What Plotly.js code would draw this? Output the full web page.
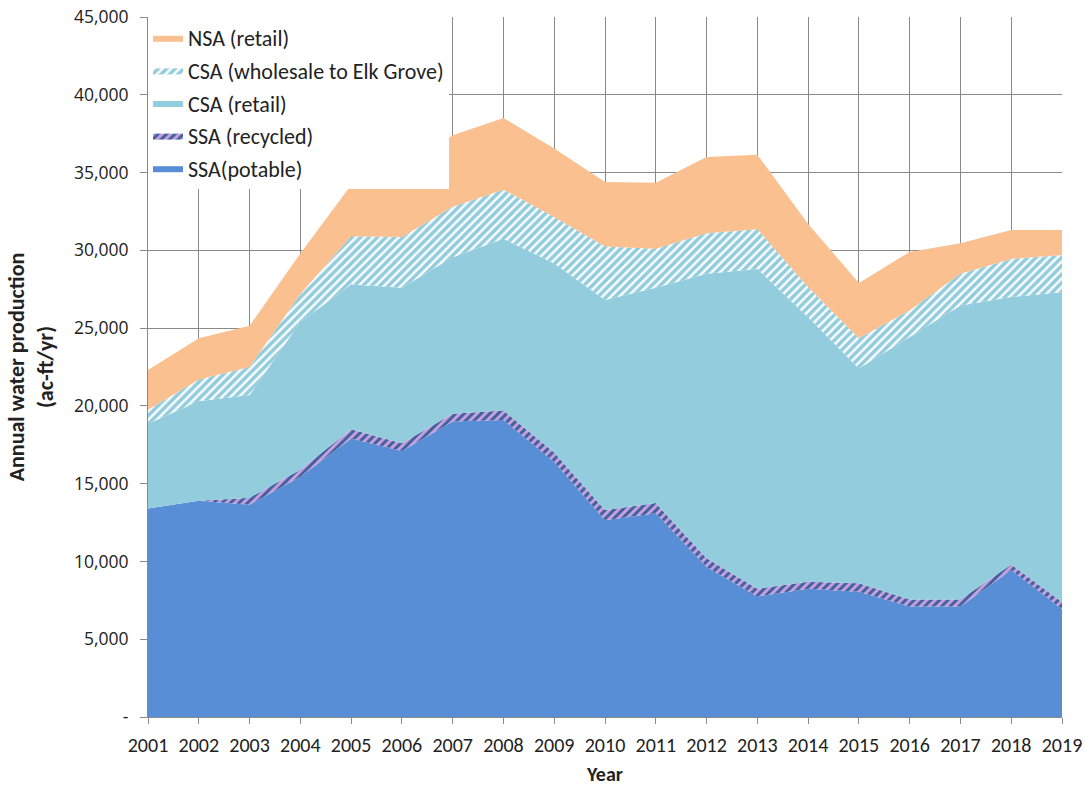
<!DOCTYPE html>
<html>
<head>
<meta charset="utf-8">
<script src="https://cdn.plot.ly/plotly-3.0.1.min.js"></script>
<style>html,body{margin:0;padding:0;background:#fff;}#chart{width:1086px;height:786px;}</style>
</head>
<body>
<div id="chart"></div>
<script>
// Data (ac-ft/yr)
const years = [2001,2002,2003,2004,2005,2006,2007,2008,2009,2010,2011,2012,2013,2014,2015,2016,2017,2018,2019];
const ssaPotable   = [13400,13900,13650,15450,17900,17100,19000,19100,16400,12650,13100,9650,7750,8250,8050,7100,7100,9450,6950];
const ssaRecycled  = [0,0,450,450,600,500,500,600,600,650,650,550,500,450,550,450,450,350,450];
const csaRetail    = [5450,6400,6600,9500,9300,10000,10050,11050,12150,13500,13850,18300,20550,17000,13800,16850,18900,17200,19900];
const csaWholesale = [900,1400,1800,1800,3100,3250,3250,3150,3000,3450,2500,2600,2550,1950,1950,1750,2050,2450,2400];
const nsaRetail    = [2550,2650,2650,2600,3300,4450,4600,4600,4400,4150,4250,4900,4800,4050,3550,3750,1950,1850,1600];
const yTickVals  = [0,5000,10000,15000,20000,25000,30000,35000,40000,45000];
const yTickText  = ['-','5,000','10,000','15,000','20,000','25,000','30,000','35,000','40,000','45,000'];

function area(name, y, color, pattern, grp, rank) {
  const t = {
    type: 'scatter', mode: 'lines', x: years, y: y, name: name,
    stackgroup: 'one', line: {width: 0, color: color}, fillcolor: color,
    legendgroup: grp, legendrank: rank, hoverinfo: 'skip'
  };
  if (pattern) t.fillpattern = pattern;
  return t;
}

const traces = [
  area('SSA(potable)', ssaPotable, '#578ED6', null, 'g1', 5),
  area('SSA (recycled)', ssaRecycled, '#4A6BB0', {shape:'/', fgcolor:'#3F5F9E', bgcolor:'#C9A2DE', size:6, solidity:0.5}, 'g2', 4),
  area('CSA (retail)', csaRetail, '#93CDDD', null, 'g3', 3),
  area('CSA (wholesale to Elk Grove)', csaWholesale, '#93CDDD', {shape:'/', fgcolor:'#93CDDD', bgcolor:'#FFFFFF', size:6, solidity:0.6}, 'g4', 2),
  area('NSA (retail)', nsaRetail, '#FAC090', null, 'g5', 1)
];

const fam = 'Carlito, Lato, Arial, sans-serif';
const layout = {
  width: 1086, height: 786,
  margin: {l: 148, r: 24, t: 17, b: 69},
  paper_bgcolor: '#fff', plot_bgcolor: '#fff',
  showlegend: true,
  legend: {
    x: 0, y: 1, xanchor: 'left', yanchor: 'top',
    bgcolor: '#fff', borderwidth: 0,
    traceorder: 'grouped', tracegroupgap: 1,
    font: {family: fam, size: 22, color: '#222'},
    itemwidth: 30
  },
  xaxis: {
    range: [2001, 2019], tickmode: 'array', tickvals: years, ticktext: years.map(String),
    showgrid: true, gridcolor: '#8a8a8a', gridwidth: 1,
    showline: true, linecolor: '#8a8a8a', ticks: 'outside', ticklen: 6, tickcolor: '#8a8a8a',
    tickfont: {family: fam, size: 20, color: '#222'}, ticklabelstandoff: 4, zeroline: false,
    title: {text: '<b>Year</b>', font: {family: fam, size: 20, color: '#222'}, standoff: 12}
  },
  yaxis: {
    range: [0, 45000], tickmode: 'array', tickvals: yTickVals, ticktext: yTickText,
    showgrid: true, gridcolor: '#8a8a8a', gridwidth: 1,
    showline: true, linecolor: '#8a8a8a', ticks: 'outside', ticklen: 7, tickcolor: '#8a8a8a',
    tickfont: {family: '"Open Sans", Arial, sans-serif', size: 17.5, color: '#222'}, ticklabelstandoff: 8, zeroline: false,
    title: {text: '<b>Annual water production<br>(ac-ft/yr)</b>', font: {family: fam, size: 22, color: '#222'}, standoff: 14}
  }
};

Plotly.newPlot('chart', traces, layout, {displayModeBar: false, staticPlot: true});
</script>
</body>
</html>
